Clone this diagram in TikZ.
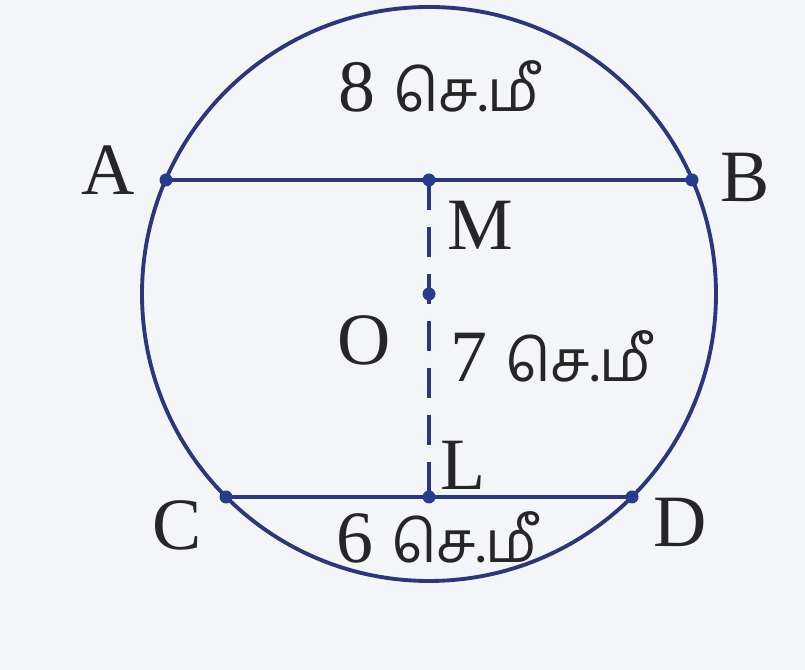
\documentclass[tikz,border=0pt]{standalone}
\usepackage{fontspec}
\setmainfont{Liberation Serif}
\newfontfamily\tamilfont[Script=Tamil, Scale=0.78]{Hind Madurai}
\usepackage{xcolor}
\definecolor{chordblue}{RGB}{45,55,120}
\definecolor{dotblue}{RGB}{40,60,140}
\definecolor{paper}{RGB}{243,245,248}
\usetikzlibrary{positioning}

\begin{document}
\begin{tikzpicture}[
    line/.style={draw=chordblue, line width=1.4pt},
    dot/.style={fill=dotblue},
    lbl/.style={anchor=base, font=\fontsize{21}{25}\selectfont, text=black!85, inner sep=0pt},
  ]
  % page
  \fill[paper] (0,0) rectangle (8.05,6.70);
  \useasboundingbox (0,0) rectangle (8.05,6.70);
  % centre and chord end points
  \coordinate (O) at (4.29,3.76);
  \coordinate (A) at (1.66,4.90);
  \coordinate (B) at (6.92,4.90);
  \coordinate (M) at (4.29,4.90);
  \coordinate (C) at (2.26,1.73);
  \coordinate (D) at (6.32,1.73);
  \coordinate (L) at (4.29,1.73);
  % circle
  \draw[chordblue, line width=1.1pt] (O) circle (2.87cm);
  % chords
  \draw[line] (A) -- (B);
  \draw[line] (C) -- (D);
  % perpendicular through the centre
  \draw[chordblue, line width=1.1pt, dash pattern=on 0.3cm off 0.17cm] (M) -- (L);
  % points
  \foreach \p in {A,B,M,O,L,C,D} {
    \fill[dot] (\p) circle (0.065cm);
  }
  % letters
  \node[lbl] (labA) at (1.08,4.75) {A};
  \node[lbl] (labB) at (7.45,4.68) {B};
  \node[lbl] (labM) at (4.80,4.20) {M};
  \node[lbl] (labO) at (3.64,3.05) {O};
  \node[lbl] (labL) at (4.63,1.80) {L};
  \node[lbl] (labC) at (1.77,1.20) {C};
  \node[lbl] (labD) at (6.80,1.23) {D};
  % lengths
  \node[lbl] (lenAB) at (4.39,5.58) {8 {\tamilfont செ.மீ}};
  \node[lbl] (lenOL) at (5.51,2.88) {7 {\tamilfont செ.மீ}};
  \node[lbl] (lenCD) at (4.37,1.07) {6 {\tamilfont செ.மீ}};
\end{tikzpicture}
\end{document}
